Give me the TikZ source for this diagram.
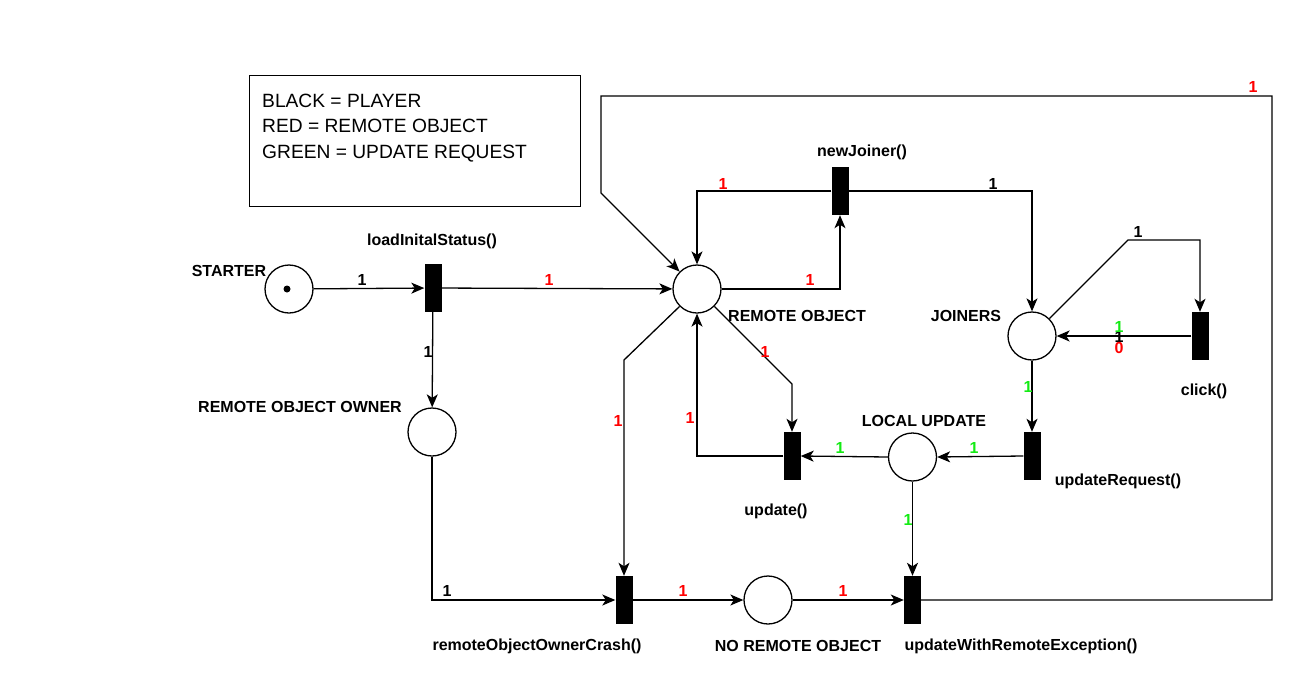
\documentclass[tikz,border=0pt]{standalone}
\usepackage{fontspec}
\setmainfont{Liberation Sans}
\usetikzlibrary{arrows.meta}
\definecolor{lblred}{RGB}{255,0,0}
\definecolor{lblgreen}{RGB}{20,235,20}
\begin{document}
\begin{tikzpicture}[x=1pt,y=-1pt,
  place/.style={circle,draw,line width=1.3pt,minimum size=48pt,inner sep=0pt},
  trans/.style={rectangle,fill=black,minimum width=17pt,minimum height=48pt,inner sep=0pt},
  arc/.style={draw,line width=1.3pt,-{Stealth[length=13pt,width=11pt,inset=3.5pt]}},
  lab/.style={font=\fontsize{16}{18}\bfseries\selectfont,inner sep=0pt},
  wt/.style={font=\fontsize{16}{18}\bfseries\selectfont,inner sep=0pt},
  wr/.style={wt,text=lblred},
  wg/.style={wt,text=lblgreen},
  wb/.style={wt,text=black},
]
\useasboundingbox (0,0) rectangle (1307,683);

% legend
\node[draw,line width=1.3pt,minimum width=331pt,minimum height=131pt,inner sep=0pt,anchor=north west] (legend) at (249,75) {};
\node[anchor=west,align=left,inner sep=0pt,font=\fontsize{19.2}{25.5}\selectfont] (legendtext) at (262,128) {BLACK = PLAYER\\RED = REMOTE OBJECT\\GREEN = UPDATE REQUEST};

% places
\node[place] (starter) at (289,289) {};
\node[circle,fill=black,inner sep=0pt,minimum size=7pt] (token) at (287,289) {};
\node[place] (ro) at (697,289) {};
\node[place] (jo) at (1032,336) {};
\node[place] (roo) at (432,432) {};
\node[place] (lu) at (912.5,457) {};
\node[place] (nro) at (768,600) {};

% transitions
\node[trans] (lis) at (433,288) {};
\node[trans] (nj) at (840,191) {};
\node[trans] (ck) at (1200,336) {};
\node[trans] (up) at (792,456) {};
\node[trans] (ur) at (1032,456) {};
\node[trans] (crash) at (624,600) {};
\node[trans] (uwre) at (912.5,600) {};

% bend points
\coordinate (c7) at (1128,240);
\coordinate (c13) at (792,384);
\coordinate (c14) at (624,360);
\coordinate (c19b) at (1272,96);
\coordinate (c19c) at (601,96);
\coordinate (c19d) at (601,193);

% arcs
\draw[arc] (starter) -- (lis);
\draw[arc] (lis) -- (ro);
\draw[arc] (lis) -- (roo);
\draw[arc] (ro.east) -| (nj.south);
\draw[arc] (nj.west) -| (ro.north);
\draw[arc] (nj.east) -| (jo.north);
\draw[arc] (jo.45) -- (c7) -| (ck.north);
\draw[arc] (ck.west) -- (jo.east);
\draw[arc] (jo.south) -- (ur.north);
\draw[arc] (ur.west) -- (lu.east);
\draw[arc] (lu.west) -- (up.east);
\draw[arc] (up.west) -| (ro.south);
\draw[arc] (ro.-45) -- (c13) -- (up.north);
\draw[arc] (ro.-135) -- (c14) -- (crash.north);
\draw[arc] (roo.south) |- (crash.west);
\draw[arc] (crash.east) -- (nro.west);
\draw[arc] (nro.east) -- (uwre.west);
\draw[arc] (lu.south) -- (uwre.north);
\draw[arc] (uwre.east) -| (c19b) -- (c19c) -- (c19d) -- (ro.135);

% arc weights
\node[wb] (w1) at (362,280) {1};
\node[wr] (w2) at (549,280) {1};
\node[wb] (w3) at (428,352) {1};
\node[wr] (w4) at (810,280) {1};
\node[wr] (w5) at (723,184) {1};
\node[wb] (w6) at (993,184) {1};
\node[wb] (w7) at (1138,232) {1};
\node[wb] (w8b) at (1119,337) {1};
\node[wg] (w8g) at (1119,327) {1};
\node[wr] (w8r) at (1119,348) {0};
\node[wg] (w9) at (1028,387) {1};
\node[wg] (w10) at (974,448) {1};
\node[wg] (w11) at (840,448) {1};
\node[wr] (w12) at (690,418) {1};
\node[wr] (w13) at (765,352) {1};
\node[wr] (w14) at (618,421) {1};
\node[wb] (w15) at (447,591) {1};
\node[wr] (w16) at (683,591) {1};
\node[wr] (w17) at (843,591) {1};
\node[wg] (w18) at (908,520) {1};
\node[wr] (w19) at (1253,87) {1};

% labels
\node[lab] (lstarter) at (229,271) {STARTER};
\node[lab] (llis) at (432,241) {loadInitalStatus()};
\node[lab] (lroo) at (300,407) {REMOTE OBJECT OWNER};
\node[lab,anchor=west] (lro) at (728,316) {REMOTE OBJECT};
\node[lab] (lnj) at (862,152) {newJoiner()};
\node[lab] (ljo) at (966,316) {JOINERS};
\node[lab] (lck) at (1204,391) {click()};
\node[lab] (llu) at (924,421) {LOCAL UPDATE};
\node[lab] (lup) at (776,511) {update()};
\node[lab] (lur) at (1118,481) {updateRequest()};
\node[lab] (lcrash) at (537,646) {remoteObjectOwnerCrash()};
\node[lab] (lnro) at (798,646) {NO REMOTE OBJECT};
\node[lab] (luwre) at (1021,646) {updateWithRemoteException()};
\end{tikzpicture}
\end{document}
